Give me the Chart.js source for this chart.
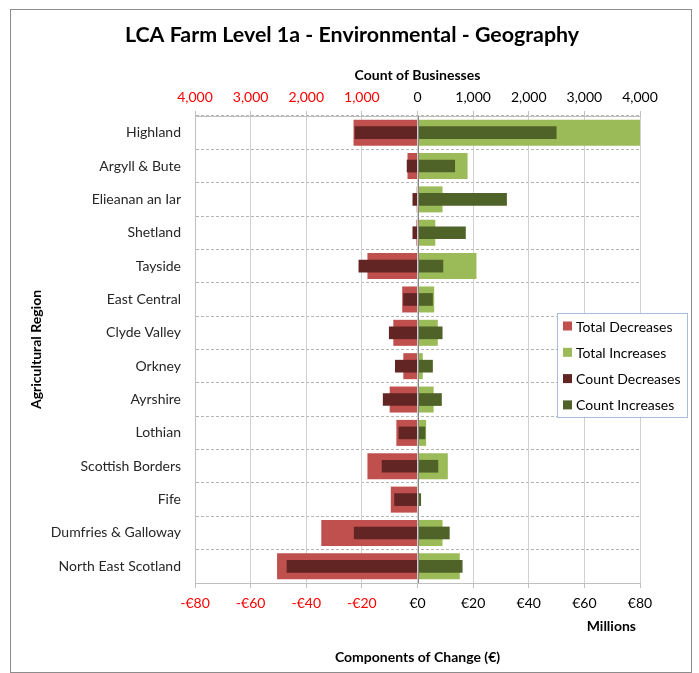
<!DOCTYPE html>
<html>
<head>
<meta charset="utf-8">
<title>LCA Farm Level 1a - Environmental - Geography</title>
<script src="https://cdn.jsdelivr.net/npm/chart.js@4.4.1/dist/chart.umd.min.js"></script>
<style>
  body { margin: 0; background: #fff; }
  canvas { display: block; }
</style>
</head>
<body>
<canvas id="chart" width="699" height="673"></canvas>
<script>
// regions, top to bottom
const regions = ['Highland', 'Argyll & Bute', 'Elieanan an Iar', 'Shetland', 'Tayside', 'East Central',
  'Clyde Valley', 'Orkney', 'Ayrshire', 'Lothian', 'Scottish Borders', 'Fife',
  'Dumfries & Galloway', 'North East Scotland'];

// euro millions (bottom axis)
const totalDecreases = [-23, -3.6, -0.3, -0.4, -18, -5.5, -8.7, -5.1, -10, -7.6, -18, -9.6, -34.6, -50.5];
const totalIncreases = [82, 18, 9, 6.4, 21.2, 6, 7.3, 1.9, 5.8, 3.1, 10.9, 0.2, 9, 15.2];

// number of businesses (top axis)
const countDecreases = [-1130, -193, -90, -90, -1060, -257, -514, -405, -623, -340, -643, -418, -1144, -2352];
const countIncreases = [2500, 675, 1607, 868, 463, 276, 450, 276, 437, 141, 373, 64, 578, 810];

const chartTitle = 'LCA Farm Level 1a - Environmental - Geography';

Chart.defaults.font.family = 'Lato';
Chart.defaults.font.size = 14;
Chart.defaults.color = '#000';

const negRed = function (c) { return c.tick && c.tick.value < 0 ? '#ff0000' : '#000'; };

// title, legend box, zero line, "Millions" label and outer frame
const extrasPlugin = {
  id: 'extras',
  afterDatasetsDraw(chart) {
    const ctx = chart.ctx, x = chart.scales.x, a = chart.chartArea;
    const x0 = Math.round(x.getPixelForValue(0)) + 0.5;
    ctx.save();
    ctx.strokeStyle = '#868686';
    ctx.lineWidth = 1;
    ctx.beginPath();
    ctx.moveTo(x0, a.top);
    ctx.lineTo(x0, a.bottom);
    ctx.stroke();
    ctx.restore();
  },
  afterDraw(chart) {
    const ctx = chart.ctx;
    ctx.save();
    // frame
    ctx.strokeStyle = '#8c8c8c';
    ctx.lineWidth = 1;
    ctx.strokeRect(10.5, 9.5, 681, 663);

    ctx.fillStyle = '#000';
    ctx.textAlign = 'center';
    ctx.textBaseline = 'middle';
    ctx.font = 'bold 21.4px Lato';
    ctx.fillText(chartTitle, 352, 35);

    ctx.font = 'bold 14px Lato';
    ctx.textAlign = 'right';
    ctx.fillText('Millions', chart.chartArea.right - 4, 626);

    // legend
    const lx = 557, ly = 313, lw = 130, lh = 104;
    ctx.fillStyle = '#fff';
    ctx.fillRect(lx, ly, lw, lh);
    ctx.strokeStyle = '#a7bfdc';
    ctx.strokeRect(lx + 0.5, ly + 0.5, lw, lh);
    ctx.font = '14px Lato';
    ctx.textAlign = 'left';
    chart.data.datasets.forEach(function (ds, i) {
      const cy = 326 + i * 26.3;
      ctx.fillStyle = ds.backgroundColor;
      ctx.fillRect(lx + 6, cy - 4.5, 9, 9);
      ctx.fillStyle = '#000';
      ctx.fillText(ds.label, lx + 19, cy + 1);
    });
    ctx.restore();
  }
};

new Chart(document.getElementById('chart'), {
  type: 'bar',
  data: {
    labels: regions,
    datasets: [
      { label: 'Total Decreases', data: totalDecreases, xAxisID: 'x', backgroundColor: '#c0504d',
        barPercentage: 0.78, categoryPercentage: 1, grouped: false, order: 2 },
      { label: 'Total Increases', data: totalIncreases, xAxisID: 'x', backgroundColor: '#9bbb59',
        barPercentage: 0.78, categoryPercentage: 1, grouped: false, order: 2 },
      { label: 'Count Decreases', data: countDecreases, xAxisID: 'x2', backgroundColor: '#632523',
        barPercentage: 0.38, categoryPercentage: 1, grouped: false, order: 1 },
      { label: 'Count Increases', data: countIncreases, xAxisID: 'x2', backgroundColor: '#4f6228',
        barPercentage: 0.38, categoryPercentage: 1, grouped: false, order: 1 }
    ]
  },
  options: {
    indexAxis: 'y',
    responsive: false,
    animation: false,
    layout: { padding: { left: 0, right: 59, top: 56, bottom: 0 } },
    plugins: {
      legend: { display: false },
      tooltip: { enabled: false },
      title: { display: false }
    },
    scales: {
      y: {
        type: 'category',
        offset: true,
        afterFit: function (s) { s.width = 195; },
        grid: { offset: true, drawTicks: false, color: '#b4b4b4' },
        border: { display: true, color: '#bfbfbf', dash: [3, 2] },
        ticks: { padding: 14, color: '#262626', font: { size: 14 } },
        title: { display: true, text: 'Agricultural Region', font: { size: 14, weight: 'bold' },
          padding: { top: 28, bottom: 0 } }
      },
      x: {
        position: 'bottom',
        min: -80, max: 80,
        afterFit: function (s) { s.height = 90; },
        grid: { color: '#d0d0d0', tickLength: 5, tickColor: '#c0c0c0' },
        border: { display: true, color: '#bfbfbf' },
        ticks: { stepSize: 20, padding: 7, color: negRed,
          callback: function (v) { return (v < 0 ? '-€' : '€') + Math.abs(v); } },
        title: { display: true, text: 'Components of Change (€)', font: { size: 14, weight: 'bold' },
          padding: { top: 0, bottom: 7 } }
      },
      x2: {
        position: 'top',
        min: -4000, max: 4000,
        afterFit: function (s) { s.height = 60; },
        grid: { drawOnChartArea: false, tickLength: 5, color: '#c0c0c0' },
        border: { display: true, color: '#bfbfbf' },
        ticks: { stepSize: 1000, padding: 5, color: negRed,
          callback: function (v) { return Math.abs(v).toLocaleString('en-US'); } },
        title: { display: true, text: 'Count of Businesses', font: { size: 14, weight: 'bold' },
          padding: { top: 11, bottom: 0 } }
      }
    }
  },
  plugins: [extrasPlugin]
});
</script>
</body>
</html>
